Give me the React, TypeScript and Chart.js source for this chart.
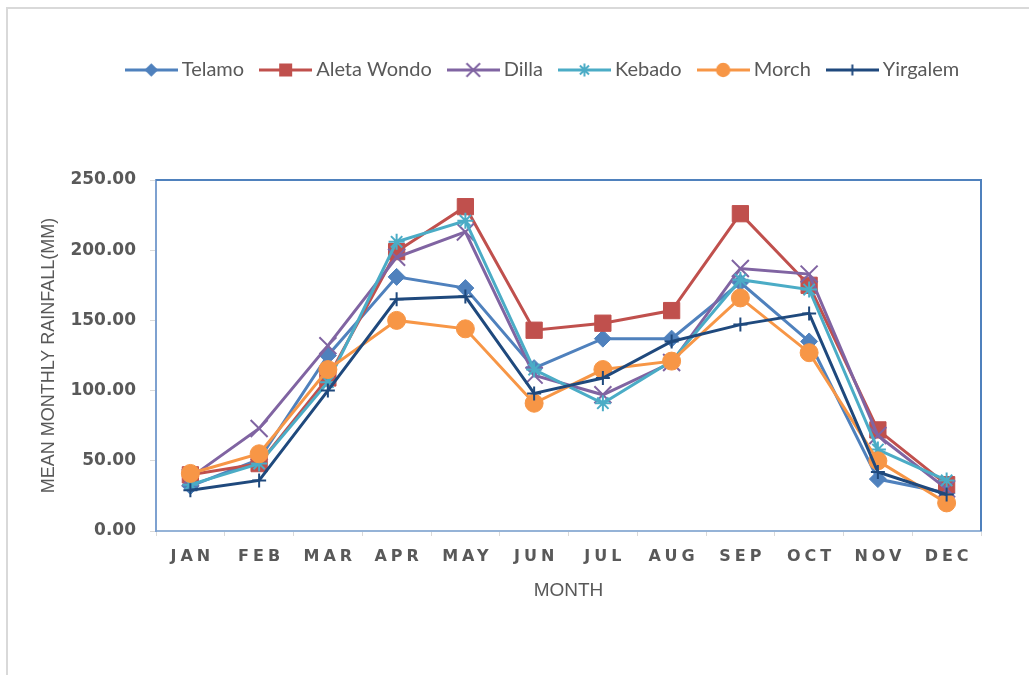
import React, { useEffect, useRef } from 'react';
import { Chart, registerables } from 'chart.js';

Chart.register(...registerables);

// ---- data ----
const MONTHS = ['JAN', 'FEB', 'MAR', 'APR', 'MAY', 'JUN', 'JUL', 'AUG', 'SEP', 'OCT', 'NOV', 'DEC'];
const TELAMO = [32, 51, 125, 181, 173, 116, 137, 137, 177, 135, 37, 27];
const ALETA_WONDO = [40, 48, 109, 199, 231, 143, 148, 157, 226, 175, 72, 33];
const DILLA = [38, 73, 132, 195, 213, 111, 97, 120, 187, 183, 68, 30];
const KEBADO = [33, 48, 106, 206, 221, 115, 91, 121, 179, 172, 58, 36];
const MORCH = [41, 55, 115, 150, 144, 91, 115, 121, 166, 127, 50, 20];
const YIRGALEM = [29, 36, 100, 165, 167, 98, 109, 135, 147, 155, 42, 26];
const SERIES_NAMES = ['Telamo', 'Aleta Wondo', 'Dilla', 'Kebado', 'Morch', 'Yirgalem'];
const SERIES_VALUES = [TELAMO, ALETA_WONDO, DILLA, KEBADO, MORCH, YIRGALEM];
const Y_TITLE = 'MEAN MONTHLY RAINFALL(MM)';
const X_TITLE = 'MONTH';

// ---- styles ----
const COLORS = ['#4F81BD', '#C0504D', '#8064A2', '#4BACC6', '#F79646', '#1F497D'];
const MARKERS = ['rectRot', 'rect', 'crossRot', 'star', 'circle', 'cross'];
const RADII = [8.5, 11.5, 12, 8, 9, 7];
const MARKER_BORDER = [1, 1, 2, 2, 1, 2];

const CANVAS_W = 1013;
const CANVAS_H = 650;
const AREA = { left: 148, right: 973, top: 172, bottom: 523 };
const LEGEND_FONT = 20;
const LEGEND_PAD = 21;
const LEGEND_BOX_W = 41;
const LEGEND_IMG_W = 53;
const LEGEND_CENTER = { x: 542, y: 70 }; // page coordinates

function drawMarker(ctx: CanvasRenderingContext2D, style: string, x: number, y: number, r: number, color: string, bw: number) {
  ctx.save();
  ctx.fillStyle = color;
  ctx.strokeStyle = color;
  ctx.lineWidth = bw;
  ctx.beginPath();
  if (style === 'rectRot') {
    ctx.moveTo(x, y - r); ctx.lineTo(x + r, y); ctx.lineTo(x, y + r); ctx.lineTo(x - r, y); ctx.closePath(); ctx.fill();
  } else if (style === 'rect') {
    const s = r * Math.SQRT1_2; ctx.rect(x - s, y - s, 2 * s, 2 * s); ctx.fill();
  } else if (style === 'circle') {
    ctx.arc(x, y, r, 0, Math.PI * 2); ctx.fill();
  } else {
    const d = r * Math.SQRT1_2;
    if (style === 'crossRot' || style === 'star') {
      ctx.moveTo(x - d, y - d); ctx.lineTo(x + d, y + d); ctx.moveTo(x + d, y - d); ctx.lineTo(x - d, y + d);
    }
    if (style === 'cross' || style === 'star') {
      ctx.moveTo(x, y - r); ctx.lineTo(x, y + r); ctx.moveTo(x - r, y); ctx.lineTo(x + r, y);
    }
    ctx.stroke();
  }
  ctx.restore();
}

function makeLegendImage(i: number): HTMLCanvasElement {
  const c = document.createElement('canvas');
  c.width = LEGEND_IMG_W; c.height = 22;
  const ctx = c.getContext('2d')!;
  ctx.strokeStyle = COLORS[i];
  ctx.lineWidth = 3;
  ctx.beginPath(); ctx.moveTo(0, 11); ctx.lineTo(LEGEND_IMG_W, 11); ctx.stroke();
  drawMarker(ctx, MARKERS[i], LEGEND_IMG_W / 2, 11, RADII[i] * 0.8, COLORS[i], MARKER_BORDER[i]);
  return c;
}

const plotFramePlugin = {
  id: 'plotFrame',
  beforeDatasetsDraw(chart: any) {
    const { ctx, chartArea: { left, right, top, bottom } } = chart;
    ctx.save();
    ctx.strokeStyle = '#4F81BD';
    ctx.lineWidth = 2;
    ctx.beginPath();
    ctx.moveTo(left, top); ctx.lineTo(right, top); ctx.lineTo(right, bottom);
    ctx.stroke();
    ctx.restore();
  },
};

const legendPlacePlugin = {
  id: 'legendPlace',
  afterLayout(chart: any) {
    const lg = chart.legend;
    if (!lg) return;
    const newTop = LEGEND_CENTER.y - 8 - LEGEND_PAD - LEGEND_FONT / 2;
    const dy = newTop - lg.top;
    lg.top += dy; lg.bottom += dy;
    const dx = (LEGEND_CENTER.x - 8) + 3 - (lg.left + lg.right) / 2;
    lg.left += dx; lg.right += dx;
  },
};

const xSpacingPlugin = {
  id: 'xSpacing',
  beforeDraw(chart: any) {
    const sx = chart.scales.x;
    if (sx && !sx._spaced) {
      const orig = sx.drawLabels.bind(sx);
      sx.drawLabels = (area: any) => {
        const ctx = chart.ctx;
        ctx.save();
        ctx.letterSpacing = '4px';
        orig(area);
        ctx.restore();
      };
      sx._spaced = true;
    }
  },
};

export default function App() {
  const ref = useRef<HTMLCanvasElement>(null);
  useEffect(() => {
    if (!ref.current) return;
    const images = SERIES_NAMES.map((_, i) => makeLegendImage(i));
    const chart = new Chart(ref.current, {
      type: 'line',
      data: {
        labels: MONTHS,
        datasets: SERIES_NAMES.map((name, i) => ({
          label: name,
          data: SERIES_VALUES[i],
          borderColor: COLORS[i],
          backgroundColor: COLORS[i],
          borderWidth: 3,
          pointStyle: MARKERS[i] as any,
          pointRadius: RADII[i],
          pointHoverRadius: RADII[i],
          pointBackgroundColor: COLORS[i],
          pointBorderColor: COLORS[i],
          pointBorderWidth: MARKER_BORDER[i],
          tension: 0,
          order: SERIES_NAMES.length - i,
          clip: false as any,
        })),
      },
      options: {
        animation: false,
        responsive: false,
        layout: {
          padding: {
            top: AREA.top - (LEGEND_FONT + LEGEND_PAD + 10),
            left: 0,
            right: CANVAS_W - AREA.right,
            bottom: 0,
          },
        },
        plugins: {
          tooltip: { enabled: false },
          legend: {
            position: 'top',
            labels: {
              usePointStyle: true,
              pointStyleWidth: LEGEND_BOX_W,
              padding: LEGEND_PAD,
              color: '#595959',
              font: { family: 'Lato, "Liberation Sans", sans-serif', size: LEGEND_FONT },
              generateLabels: () =>
                SERIES_NAMES.map((name, i) => ({
                  text: name,
                  datasetIndex: i,
                  fillStyle: COLORS[i],
                  strokeStyle: COLORS[i],
                  lineWidth: 0,
                  pointStyle: images[i] as any,
                  hidden: false,
                  fontColor: '#595959',
                })),
            },
          },
        },
        scales: {
          x: {
            offset: true,
            grid: { offset: true, drawOnChartArea: false, tickLength: 5, color: '#D9D9D9' },
            border: { color: '#95B3D7', width: 2 },
            ticks: {
              autoSkip: false,
              maxRotation: 0,
              padding: 11,
              labelOffset: 2,
              color: '#595959',
              font: { family: '"DejaVu Sans", sans-serif', size: 16, weight: 'bold' },
            },
            title: {
              display: true,
              text: X_TITLE,
              color: '#595959',
              font: { family: '"Liberation Sans", Arial, sans-serif', size: 19 },
              padding: { top: 0, bottom: 56 },
            },
            afterFit: (scale: any) => { scale.height = CANVAS_H - AREA.bottom; },
          },
          y: {
            min: 0,
            max: 250,
            ticks: {
              stepSize: 50,
              padding: 14,
              color: '#595959',
              font: { family: '"DejaVu Sans", sans-serif', size: 17, weight: 'bold' },
              callback: (v: any) => Number(v).toFixed(2),
            },
            grid: { drawOnChartArea: false, tickLength: 6, color: '#D9D9D9' },
            border: { color: '#7EA1D0', width: 2 },
            title: {
              display: true,
              text: Y_TITLE,
              color: '#595959',
              font: { family: '"Liberation Sans", Arial, sans-serif', size: 18 },
              padding: { top: 30, bottom: 0 },
            },
            afterFit: (scale: any) => { scale.width = AREA.left; },
          },
        },
      },
      plugins: [plotFramePlugin, legendPlacePlugin, xSpacingPlugin],
    });
    return () => chart.destroy();
  }, []);

  return (
    <>
      <div
        style={{
          position: 'fixed', left: 6, top: 7, width: 1100, height: 720,
          borderLeft: '2px solid #D9D9D9', borderTop: '2px solid #D9D9D9', pointerEvents: 'none',
        }}
      />
      <div style={{ width: CANVAS_W, height: CANVAS_H, position: 'relative' }}>
        <canvas ref={ref} width={CANVAS_W} height={CANVAS_H} style={{ display: 'block' }} />
      </div>
    </>
  );
}
